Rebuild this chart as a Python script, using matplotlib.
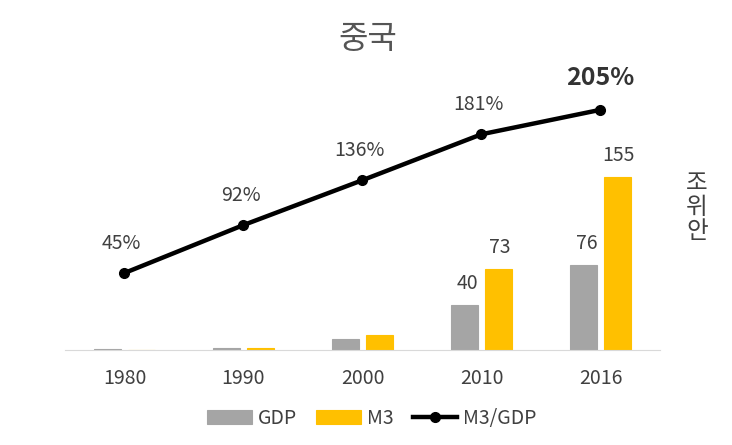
import matplotlib.pyplot as plt
import numpy as np

plt.rcParams['font.family'] = ['Noto Sans CJK KR', 'DejaVu Sans']

years = ['1980', '1990', '2000', '2010', '2016']
gdp = [0.46, 1.9, 10.0, 40, 76]
m3 = [0.21, 1.75, 13.6, 73, 155]
ratio = [45, 92, 136, 181, 205]
gdp_labels = ['', '', '', '40', '76']
m3_labels = ['', '', '', '73', '155']

gray = '#A5A5A5'
gold = '#FFC000'
txt = '#404040'

fig = plt.figure(figsize=(7.32, 4.45), dpi=100)
ax = fig.add_axes([0.0888, 0.2135, 0.8128, 0.6067])
x = np.arange(len(years))
w = 0.224
off = 0.142

# thin edge so the tiny 1980/1990 bars still show as a line
b1 = ax.bar(x - off, gdp, w, color=gray, edgecolor=gray, linewidth=0.8, label='GDP')
b2 = ax.bar(x + off, m3, w, color=gold, edgecolor=gold, linewidth=0.8, label='M3')
ax.set_ylim(0, 242.4)
ax.set_xlim(-0.5, 4.5)

for i in range(len(years)):
    if gdp_labels[i]:
        ax.annotate(gdp_labels[i], (x[i] - off, gdp[i]), xytext=(2, 8), textcoords='offset points',
                    ha='center', va='bottom', fontsize=14, color=txt)
    if m3_labels[i]:
        ax.annotate(m3_labels[i], (x[i] + off, m3[i]), xytext=(1, 8), textcoords='offset points',
                    ha='center', va='bottom', fontsize=14, color=txt)

ax2 = ax.twinx()
ln, = ax2.plot(x, ratio, color='black', linewidth=3.2, marker='o', markersize=7, label='M3/GDP')
ax2.set_ylim(-30.5, 234.2)
for i, r in enumerate(ratio):
    if i == len(ratio) - 1:
        ax2.annotate(f'{r}%', (x[i], r), xytext=(0, 14), textcoords='offset points',
                     ha='center', va='bottom', fontsize=18, fontweight='bold', color='#333333')
    else:
        ax2.annotate(f'{r}%', (x[i], r), xytext=(-2, 14), textcoords='offset points',
                     ha='center', va='bottom', fontsize=14, color=txt)

for a in (ax, ax2):
    for s in ['top', 'right', 'left']:
        a.spines[s].set_visible(False)
    a.set_yticks([])
ax2.spines['bottom'].set_visible(False)
ax.spines['bottom'].set_color('#D9D9D9')
ax.set_xticks(x)
ax.set_xticklabels(years, fontsize=14, color=txt)
ax.tick_params(axis='x', length=0, pad=13)

fig.text(0.502, 0.913, '중국', ha='center', va='center', fontsize=23,
         color='#555555', fontweight='medium')
fig.text(0.952, 0.533, '조\n위\n안', ha='center', va='center', fontsize=17,
         color=txt, linespacing=1.05, fontweight='medium')

fig.legend(handles=[b1, b2, ln], loc='center', bbox_to_anchor=(0.508, 0.06), ncol=3,
           frameon=False, fontsize=14, handlelength=2.3, handletextpad=0.3, columnspacing=1.0,
           labelcolor=txt)

fig.savefig('out.png', dpi=100, facecolor='white')
